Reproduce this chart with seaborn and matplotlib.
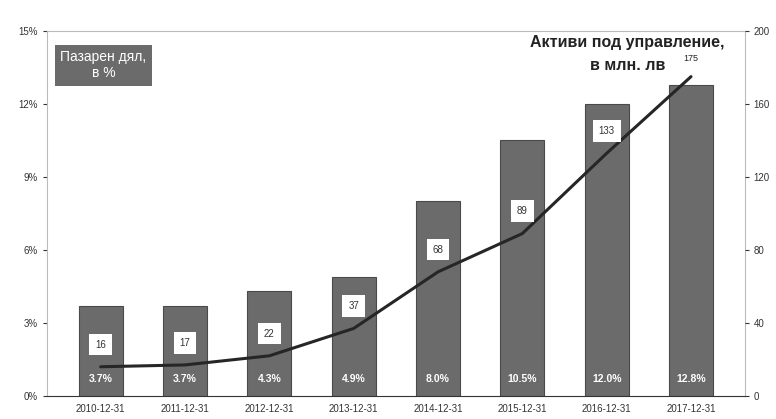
import pandas as pd
import matplotlib
matplotlib.use('Agg')
import matplotlib.pyplot as plt
from matplotlib.ticker import FuncFormatter
import seaborn as sns

# Data
dates = ['2010-12-31', '2011-12-31', '2012-12-31', '2013-12-31',
         '2014-12-31', '2015-12-31', '2016-12-31', '2017-12-31']
market_share = [3.7, 3.7, 4.3, 4.9, 8.0, 10.5, 12.0, 12.8]
assets = [16, 17, 22, 37, 68, 89, 133, 175]

df = pd.DataFrame({'date': dates, 'share': market_share, 'assets': assets})

sns.set_style('white')
plt.rcParams['font.family'] = ['Liberation Sans', 'DejaVu Sans']

fig = plt.figure(figsize=(7.76, 4.19), dpi=100)
ax = fig.add_axes([0.0606, 0.055, 0.899, 0.871])

# Bars: market share
sns.barplot(data=df, x='date', y='share', color='#6b6b6b', saturation=1,
            width=0.52, edgecolor='#4a4a4a', linewidth=0.8, ax=ax)
ax.set_ylim(0, 15)
ax.set_yticks([0, 3, 6, 9, 12, 15])
ax.yaxis.set_major_formatter(FuncFormatter(lambda v, p: f'{v:.0f}%'))
ax.set_xlabel('')
ax.set_ylabel('')
ax.tick_params(axis='both', labelsize=7, colors='#333333', length=3)
ax.tick_params(axis='x', length=0, pad=6)
for s in ax.spines.values():
    s.set_color('#bbbbbb')
    s.set_linewidth(0.8)
ax.spines['bottom'].set_color('#333333')

for i, v in enumerate(market_share):
    ax.text(i, 0.5, f'{v:.1f}%', ha='center', va='bottom', color='white',
            fontsize=7.5, fontweight='bold')

# Line: assets under management
ax2 = ax.twinx()
sns.lineplot(data=df, x='date', y='assets', color='#262626', linewidth=2.2,
             sort=False, ax=ax2)
ax2.set_ylim(0, 200)
ax2.set_yticks([0, 40, 80, 120, 160, 200])
ax2.set_ylabel('')
ax2.tick_params(axis='y', labelsize=7, colors='#333333', length=3)
for s in ax2.spines.values():
    s.set_visible(False)

for i, v in enumerate(assets):
    if i == len(assets) - 1:
        ax2.annotate(str(v), (i, v), xytext=(0, 13), textcoords='offset points',
                     ha='center', va='center', fontsize=6.5, color='#222222')
    else:
        ax2.annotate(str(v), (i, v), xytext=(0, 16), textcoords='offset points',
                     ha='center', va='center', fontsize=7, color='#333333',
                     bbox=dict(boxstyle='square,pad=0.6', fc='white', ec='none'))

# Titles
ax.text(0.081, 0.947, 'Пазарен дял,\nв %', transform=ax.transAxes,
        ha='center', va='top', color='white', fontsize=10, linespacing=1.15,
        multialignment='center',
        bbox=dict(boxstyle='square,pad=0.4', fc='#6b6b6b', ec='none'))
ax.text(0.831, 0.99, 'Активи под управление,', transform=ax.transAxes,
        ha='center', va='top', color='#222222', fontsize=11.5, fontweight='bold')
ax.text(0.833, 0.927, 'в млн. лв', transform=ax.transAxes,
        ha='center', va='top', color='#222222', fontsize=11.5, fontweight='bold')

fig.savefig('out.png', dpi=100)
